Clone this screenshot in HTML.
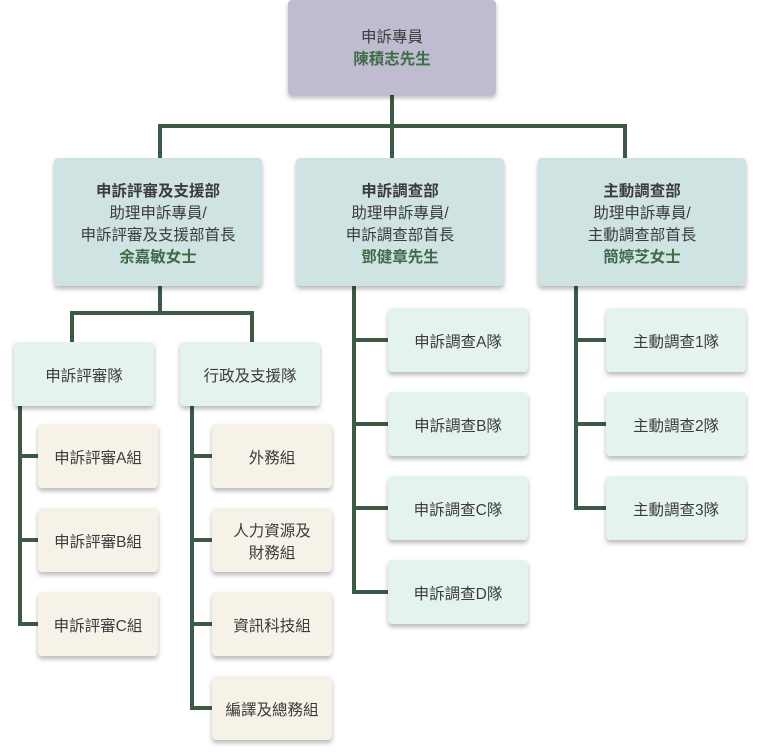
<!DOCTYPE html>
<html>
<head>
<meta charset="utf-8">
<style>
  html,body{margin:0;padding:0;background:#ffffff;}
  body{width:768px;height:756px;position:relative;overflow:hidden;
    font-family:"Liberation Sans","Noto Sans CJK TC",sans-serif;color:#3c3c3c;}
  .ln{position:absolute;background:#3d5a46;}
  .box{position:absolute;box-sizing:border-box;border-radius:4px;
    box-shadow:0 3px 5px rgba(0,0,0,0.28);
    display:flex;flex-direction:column;align-items:center;justify-content:center;
    text-align:center;font-size:15.5px;line-height:22px;padding-top:5px;}
  .top{background:#bfbccf;padding-top:2px;}
  .l2{background:#cfe3e3;}
  .l3{background:#e5f3ef;}
  .lf{background:#f6f2e8;}
  .b{font-weight:bold;}
  .g{color:#3f6b48;font-weight:bold;}
</style>
</head>
<body>
<!-- connectors -->
<div class="ln" style="left:390px;top:94px;width:4px;height:64px;"></div>
<div class="ln" style="left:158px;top:124px;width:469px;height:4px;"></div>
<div class="ln" style="left:158px;top:124px;width:4px;height:34px;"></div>
<div class="ln" style="left:623px;top:124px;width:4px;height:34px;"></div>

<div class="ln" style="left:158px;top:286px;width:4px;height:29px;"></div>
<div class="ln" style="left:70px;top:311px;width:184px;height:4px;"></div>
<div class="ln" style="left:70px;top:311px;width:4px;height:31px;"></div>
<div class="ln" style="left:250px;top:311px;width:4px;height:31px;"></div>

<!-- left sub -->
<div class="ln" style="left:18px;top:406px;width:4px;height:220px;"></div>
<div class="ln" style="left:18px;top:454px;width:20px;height:4px;"></div>
<div class="ln" style="left:18px;top:538px;width:20px;height:4px;"></div>
<div class="ln" style="left:18px;top:622px;width:20px;height:4px;"></div>

<div class="ln" style="left:190px;top:406px;width:4px;height:304px;"></div>
<div class="ln" style="left:190px;top:454px;width:22px;height:4px;"></div>
<div class="ln" style="left:190px;top:538px;width:22px;height:4px;"></div>
<div class="ln" style="left:190px;top:622px;width:22px;height:4px;"></div>
<div class="ln" style="left:190px;top:706px;width:22px;height:4px;"></div>

<!-- middle -->
<div class="ln" style="left:352px;top:286px;width:4px;height:308px;"></div>
<div class="ln" style="left:352px;top:338px;width:36px;height:4px;"></div>
<div class="ln" style="left:352px;top:422px;width:36px;height:4px;"></div>
<div class="ln" style="left:352px;top:506px;width:36px;height:4px;"></div>
<div class="ln" style="left:352px;top:590px;width:36px;height:4px;"></div>

<!-- right -->
<div class="ln" style="left:574px;top:286px;width:4px;height:224px;"></div>
<div class="ln" style="left:574px;top:338px;width:32px;height:4px;"></div>
<div class="ln" style="left:574px;top:422px;width:32px;height:4px;"></div>
<div class="ln" style="left:574px;top:506px;width:32px;height:4px;"></div>

<!-- boxes -->
<div class="box top" style="left:288px;top:0px;width:208px;height:95px;">
  <div>申訴專員</div><div class="g">陳積志先生</div>
</div>

<div class="box l2" style="left:54px;top:158px;width:208px;height:128px;">
  <div class="b">申訴評審及支援部</div><div>助理申訴專員/</div><div>申訴評審及支援部首長</div><div class="g">余嘉敏女士</div>
</div>
<div class="box l2" style="left:296px;top:158px;width:208px;height:128px;">
  <div class="b">申訴調查部</div><div>助理申訴專員/</div><div>申訴調查部首長</div><div class="g">鄧健章先生</div>
</div>
<div class="box l2" style="left:538px;top:158px;width:208px;height:128px;">
  <div class="b">主動調查部</div><div>助理申訴專員/</div><div>主動調查部首長</div><div class="g">簡婷芝女士</div>
</div>

<div class="box l3" style="left:14px;top:342px;width:140px;height:64px;">申訴評審隊</div>
<div class="box l3" style="left:180px;top:342px;width:140px;height:64px;">行政及支援隊</div>

<div class="box lf" style="left:38px;top:424px;width:120px;height:64px;">申訴評審A組</div>
<div class="box lf" style="left:38px;top:508px;width:120px;height:64px;">申訴評審B組</div>
<div class="box lf" style="left:38px;top:592px;width:120px;height:64px;">申訴評審C組</div>

<div class="box lf" style="left:212px;top:424px;width:120px;height:64px;">外務組</div>
<div class="box lf" style="left:212px;top:508px;width:120px;height:64px;"><div>人力資源及</div><div>財務組</div></div>
<div class="box lf" style="left:212px;top:592px;width:120px;height:64px;">資訊科技組</div>
<div class="box lf" style="left:212px;top:676px;width:120px;height:64px;">編譯及總務組</div>

<div class="box l3" style="left:388px;top:308px;width:140px;height:64px;">申訴調查A隊</div>
<div class="box l3" style="left:388px;top:392px;width:140px;height:64px;">申訴調查B隊</div>
<div class="box l3" style="left:388px;top:476px;width:140px;height:64px;">申訴調查C隊</div>
<div class="box l3" style="left:388px;top:560px;width:140px;height:64px;">申訴調查D隊</div>

<div class="box l3" style="left:606px;top:308px;width:140px;height:64px;">主動調查1隊</div>
<div class="box l3" style="left:606px;top:392px;width:140px;height:64px;">主動調查2隊</div>
<div class="box l3" style="left:606px;top:476px;width:140px;height:64px;">主動調查3隊</div>
</body>
</html>
